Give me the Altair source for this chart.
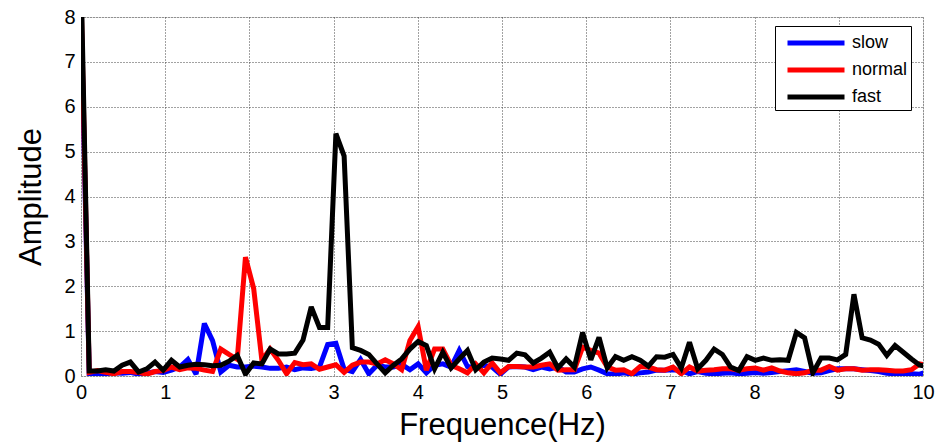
import altair as alt
import pandas as pd

# frequency bins (fs = 100 Hz, N = 1024)
n_bins = 104
step = 100.0 / 1024.0

slow = [8.2, 0.04, 0.04, 0.05, 0.07, 0.06, 0.08, 0.04, 0.06, 0.10,
        0.08, 0.13, 0.20, 0.37, 0.04, 1.17, 0.79, 0.09, 0.24, 0.20,
        0.20, 0.22, 0.20, 0.17, 0.17, 0.20, 0.14, 0.18, 0.17, 0.20,
        0.70, 0.73, 0.15, 0.10, 0.37, 0.05, 0.24, 0.20, 0.20, 0.26,
        0.14, 0.27, 0.07, 0.24, 0.27, 0.20, 0.57, 0.21, 0.18, 0.24,
        0.20, 0.04, 0.20, 0.21, 0.20, 0.14, 0.20, 0.16, 0.20, 0.09,
        0.09, 0.16, 0.20, 0.13, 0.05, 0.04, 0.07, 0.04, 0.07, 0.09,
        0.13, 0.13, 0.14, 0.12, 0.05, 0.10, 0.06, 0.05, 0.06, 0.07,
        0.05, 0.06, 0.08, 0.06, 0.08, 0.10, 0.12, 0.14, 0.10, 0.06,
        0.07, 0.12, 0.16, 0.16, 0.16, 0.14, 0.12, 0.10, 0.06, 0.05,
        0.05, 0.05, 0.04, 0.10]

normal = [8.5, 0.08, 0.12, 0.08, 0.05, 0.10, 0.10, 0.08, 0.04, 0.10,
          0.12, 0.20, 0.14, 0.18, 0.17, 0.13, 0.10, 0.60, 0.48, 0.37,
          2.65, 1.95, 0.35, 0.60, 0.35, 0.05, 0.30, 0.25, 0.27, 0.15,
          0.20, 0.25, 0.08, 0.24, 0.31, 0.31, 0.27, 0.36, 0.27, 0.14,
          0.79, 1.10, 0.13, 0.60, 0.60, 0.24, 0.16, 0.07, 0.27, 0.07,
          0.29, 0.07, 0.21, 0.21, 0.20, 0.20, 0.24, 0.27, 0.13, 0.14,
          0.14, 0.64, 0.57, 0.51, 0.20, 0.13, 0.14, 0.05, 0.21, 0.20,
          0.14, 0.13, 0.20, 0.05, 0.20, 0.11, 0.13, 0.14, 0.16, 0.16,
          0.13, 0.16, 0.18, 0.13, 0.18, 0.11, 0.07, 0.05, 0.07, 0.13,
          0.13, 0.21, 0.13, 0.16, 0.16, 0.13, 0.14, 0.14, 0.13, 0.11,
          0.11, 0.14, 0.27, 0.24]

fast = [9.0, 0.11, 0.11, 0.14, 0.11, 0.24, 0.31, 0.09, 0.16, 0.31,
        0.13, 0.35, 0.20, 0.24, 0.26, 0.25, 0.23, 0.24, 0.33, 0.46,
        0.04, 0.29, 0.27, 0.60, 0.49, 0.49, 0.51, 0.80, 1.54, 1.08,
        1.08, 5.40, 4.90, 0.63, 0.57, 0.48, 0.27, 0.07, 0.24, 0.38,
        0.60, 0.77, 0.68, 0.16, 0.53, 0.18, 0.38, 0.57, 0.14, 0.31,
        0.40, 0.38, 0.35, 0.51, 0.47, 0.29, 0.40, 0.53, 0.18, 0.38,
        0.20, 0.97, 0.36, 0.86, 0.18, 0.43, 0.35, 0.43, 0.35, 0.22,
        0.43, 0.42, 0.48, 0.18, 0.75, 0.16, 0.35, 0.60, 0.48, 0.20,
        0.12, 0.43, 0.35, 0.40, 0.35, 0.36, 0.35, 0.97, 0.85, 0.07,
        0.40, 0.40, 0.36, 0.48, 1.82, 0.85, 0.80, 0.71, 0.46, 0.68,
        0.53, 0.38, 0.24, 0.21]

series_names = ["slow", "normal", "fast"]
series_colors = ["#0000FF", "#FF0000", "#000000"]
x_ticks = [0, 1, 2, 3, 4, 5, 6, 7, 8, 9, 10]
y_ticks = [0, 1, 2, 3, 4, 5, 6, 7, 8]

freq = [i * step for i in range(n_bins)]
rows = []
for name, vals in zip(series_names, [slow, normal, fast]):
    for f, v in zip(freq, vals):
        rows.append({"freq": f, "amp": v, "speed": name})
df = pd.DataFrame(rows)

FONT = "Liberation Sans"

x_enc = alt.X("freq:Q",
              scale=alt.Scale(domain=[0, 10], nice=False, zero=False),
              axis=alt.Axis(title="Frequence(Hz)", values=x_ticks, format="d",
                            titleFontSize=31, titleFont=FONT, titleFontWeight="normal",
                            titleColor="black", titlePadding=8,
                            labelFontSize=20, labelFont=FONT, labelColor="black",
                            labelPadding=6, tickSize=0, domain=False,
                            grid=True, gridDash=[1, 2], gridColor="#444444",
                            gridWidth=1, labelFlush=False))
y_enc = alt.Y("amp:Q",
              scale=alt.Scale(domain=[0, 8], nice=False),
              axis=alt.Axis(title="Amplitude", values=y_ticks, format="d",
                            titleFontSize=31, titleFont=FONT, titleFontWeight="normal",
                            titleColor="black", titlePadding=16,
                            labelFontSize=20, labelFont=FONT, labelColor="black",
                            labelPadding=6, tickSize=0, domain=False,
                            grid=True, gridDash=[1, 2], gridColor="#444444",
                            gridWidth=1, labelFlush=False))
color_enc = alt.Color("speed:N",
                      scale=alt.Scale(domain=series_names, range=series_colors),
                      legend=alt.Legend(title=None, orient="none",
                                        legendX=694, legendY=9,
                                        symbolType="M-2.5,0H2.5", symbolSize=520,
                                        symbolStrokeWidth=5, symbolOffset=24,
                                        labelFontSize=18, labelFont=FONT,
                                        labelColor="black", labelOffset=22,
                                        rowPadding=3, padding=3,
                                        strokeColor="black", fillColor="white",
                                        cornerRadius=0))

layers = []
for name in series_names:
    layers.append(
        alt.Chart(df)
        .transform_filter(alt.datum.speed == name)
        .mark_line(strokeWidth=5, clip=True, strokeJoin="miter", strokeMiterLimit=3)
        .encode(x=x_enc, y=y_enc, color=color_enc, order="freq:Q")
    )

chart = (
    alt.layer(*layers)
    .properties(width=842, height=359,
                autosize=alt.AutoSizeParams(type="none"),
                padding={"left": 81, "top": 17, "right": 13, "bottom": 66})
    .configure_view(stroke="black", strokeWidth=1.2, fill="white")
    .configure(background="white")
)

chart.save("out.html", embed_options={"renderer": "svg", "actions": False})
